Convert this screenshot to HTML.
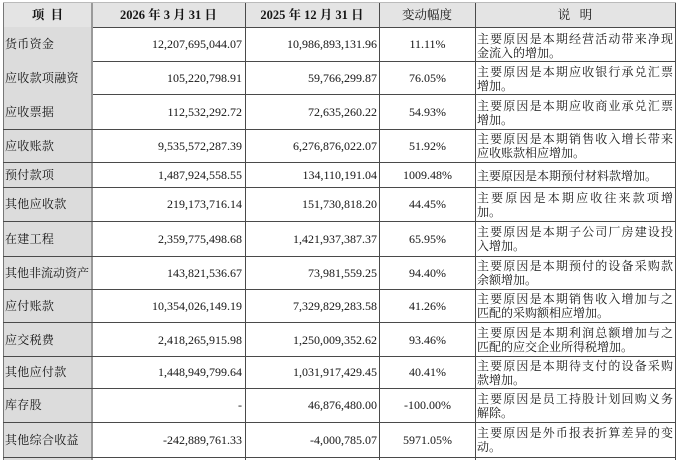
<!DOCTYPE html>
<html>
<head>
<meta charset="utf-8">
<style>
  html,body{margin:0;padding:0;background:#fff;}
  body{width:692px;height:460px;position:relative;overflow:hidden;
       font-family:"Liberation Serif","Noto Serif CJK SC",serif;color:#151515;}
  .abs{position:absolute;}
  .hl{position:absolute;height:1px;background:#4a4a4a;}
  .vl{position:absolute;width:1px;background:#4a4a4a;}
  .c1{position:absolute;left:5px;font-size:12px;letter-spacing:0.3px;line-height:14px;white-space:nowrap;}
  .n2{position:absolute;right:450px;font-size:12px;line-height:14px;white-space:nowrap;}
  .n3{position:absolute;right:315px;font-size:12px;line-height:14px;white-space:nowrap;}
  .p4{position:absolute;left:380px;width:95px;text-align:center;font-size:12px;line-height:14px;white-space:nowrap;}
  .d{position:absolute;left:477px;width:196px;font-size:12px;line-height:14px;white-space:nowrap;}
  .j{text-align:justify;text-align-last:justify;white-space:normal;}
  .h{position:absolute;top:8px;font-size:12.5px;line-height:14px;text-align:center;white-space:nowrap;}
</style>
</head>
<body>
<!-- backgrounds -->
<div class="abs" style="left:3px;top:3px;width:672px;height:24px;background:#e4e4e4;"></div>
<div class="abs" style="left:3px;top:27px;width:89px;height:433px;background:#dcdcdc;"></div>

<!-- vertical lines -->
<div class="vl" style="left:3px;top:3px;height:457px;background:#777;"></div>
<div class="vl" style="left:91px;top:3px;height:457px;width:2px;background:#9a9a9a;"></div>
<div class="vl" style="left:245px;top:3px;height:457px;"></div>
<div class="vl" style="left:379px;top:3px;height:457px;"></div>
<div class="vl" style="left:475px;top:3px;height:457px;"></div>
<div class="vl" style="left:675px;top:3px;height:457px;"></div>

<!-- horizontal lines -->
<div class="hl" style="left:3px;top:2px;width:673px;background:#bbb;"></div>
<div class="hl" style="left:93px;top:27px;width:583px;"></div>
<div class="hl" style="left:93px;top:61px;width:583px;"></div>
<div class="hl" style="left:93px;top:94px;width:583px;"></div>
<div class="hl" style="left:3px;top:129px;width:673px;"></div>
<div class="hl" style="left:3px;top:162px;width:673px;"></div>
<div class="hl" style="left:3px;top:187px;width:673px;"></div>
<div class="hl" style="left:3px;top:221px;width:673px;"></div>
<div class="hl" style="left:3px;top:256px;width:673px;"></div>
<div class="hl" style="left:3px;top:289px;width:673px;"></div>
<div class="hl" style="left:3px;top:322px;width:673px;"></div>
<div class="hl" style="left:3px;top:356px;width:673px;"></div>
<div class="hl" style="left:3px;top:388px;width:673px;"></div>
<div class="hl" style="left:3px;top:422px;width:673px;"></div>
<div class="hl" style="left:3px;top:457px;width:673px;"></div>

<!-- header -->
<div class="h" style="left:3px;width:89px;font-weight:bold;">项&nbsp;&nbsp;目</div>
<div class="h" style="left:92px;width:153px;font-weight:bold;">2026 年 3 月 31 日</div>
<div class="h" style="left:245px;width:134px;font-weight:bold;">2025 年 12 月 31 日</div>
<div class="h" style="left:379px;width:96px;">变动幅度</div>
<div class="h" style="left:475px;width:200px;">说&nbsp;&nbsp;&nbsp;明</div>

<!-- row 1: 27-61 -->
<div class="c1" style="top:37px;">货币资金</div>
<div class="n2" style="top:37px;">12,207,695,044.07</div>
<div class="n3" style="top:37px;">10,986,893,131.96</div>
<div class="p4" style="top:37px;">11.11%</div>
<div class="d j" style="top:32px;">主要原因是本期经营活动带来净现</div>
<div class="d" style="top:46px;">金流入的增加。</div>

<!-- row 2: 61-94 -->
<div class="c1" style="top:71px;">应收款项融资</div>
<div class="n2" style="top:71px;">105,220,798.91</div>
<div class="n3" style="top:71px;">59,766,299.87</div>
<div class="p4" style="top:71px;">76.05%</div>
<div class="d j" style="top:65px;">主要原因是本期应收银行承兑汇票</div>
<div class="d" style="top:79px;">增加。</div>

<!-- row 3: 94-129 -->
<div class="c1" style="top:105px;">应收票据</div>
<div class="n2" style="top:105px;">112,532,292.72</div>
<div class="n3" style="top:105px;">72,635,260.22</div>
<div class="p4" style="top:105px;">54.93%</div>
<div class="d j" style="top:99px;">主要原因是本期应收商业承兑汇票</div>
<div class="d" style="top:113px;">增加。</div>

<!-- row 4: 129-162 -->
<div class="c1" style="top:139px;">应收账款</div>
<div class="n2" style="top:139px;">9,535,572,287.39</div>
<div class="n3" style="top:139px;">6,276,876,022.07</div>
<div class="p4" style="top:139px;">51.92%</div>
<div class="d j" style="top:132px;">主要原因是本期销售收入增长带来</div>
<div class="d" style="top:146px;">应收账款相应增加。</div>

<!-- row 5: 162-187 -->
<div class="c1" style="top:168px;">预付款项</div>
<div class="n2" style="top:168px;">1,487,924,558.55</div>
<div class="n3" style="top:168px;">134,110,191.04</div>
<div class="p4" style="top:168px;">1009.48%</div>
<div class="d" style="top:169px;">主要原因是本期预付材料款增加。</div>

<!-- row 6: 187-221 -->
<div class="c1" style="top:197px;">其他应收款</div>
<div class="n2" style="top:197px;">219,173,716.14</div>
<div class="n3" style="top:197px;">151,730,818.20</div>
<div class="p4" style="top:197px;">44.45%</div>
<div class="d j" style="top:191px;">主要原因是本期应收往来款项增</div>
<div class="d" style="top:205px;">加。</div>

<!-- row 7: 221-256 -->
<div class="c1" style="top:232px;">在建工程</div>
<div class="n2" style="top:232px;">2,359,775,498.68</div>
<div class="n3" style="top:232px;">1,421,937,387.37</div>
<div class="p4" style="top:232px;">65.95%</div>
<div class="d j" style="top:225px;">主要原因是本期子公司厂房建设投</div>
<div class="d" style="top:239px;">入增加。</div>

<!-- row 8: 256-289 -->
<div class="c1" style="top:266px;letter-spacing:0;">其他非流动资产</div>
<div class="n2" style="top:266px;">143,821,536.67</div>
<div class="n3" style="top:266px;">73,981,559.25</div>
<div class="p4" style="top:266px;">94.40%</div>
<div class="d j" style="top:259px;">主要原因是本期预付的设备采购款</div>
<div class="d" style="top:273px;">余额增加。</div>

<!-- row 9: 289-322 -->
<div class="c1" style="top:299px;">应付账款</div>
<div class="n2" style="top:299px;">10,354,026,149.19</div>
<div class="n3" style="top:299px;">7,329,829,283.58</div>
<div class="p4" style="top:299px;">41.26%</div>
<div class="d j" style="top:292px;">主要原因是本期销售收入增加与之</div>
<div class="d" style="top:306px;">匹配的采购额相应增加。</div>

<!-- row 10: 322-356 -->
<div class="c1" style="top:333px;">应交税费</div>
<div class="n2" style="top:333px;">2,418,265,915.98</div>
<div class="n3" style="top:333px;">1,250,009,352.62</div>
<div class="p4" style="top:333px;">93.46%</div>
<div class="d j" style="top:326px;">主要原因是本期利润总额增加与之</div>
<div class="d" style="top:340px;">匹配的应交企业所得税增加。</div>

<!-- row 11: 356-388 -->
<div class="c1" style="top:365px;">其他应付款</div>
<div class="n2" style="top:365px;">1,448,949,799.64</div>
<div class="n3" style="top:365px;">1,031,917,429.45</div>
<div class="p4" style="top:365px;">40.41%</div>
<div class="d j" style="top:359px;">主要原因是本期待支付的设备采购</div>
<div class="d" style="top:373px;">款增加。</div>

<!-- row 12: 388-422 -->
<div class="c1" style="top:398px;">库存股</div>
<div class="n2" style="top:398px;">-</div>
<div class="n3" style="top:398px;">46,876,480.00</div>
<div class="p4" style="top:398px;">-100.00%</div>
<div class="d j" style="top:392px;">主要原因是员工持股计划回购义务</div>
<div class="d" style="top:406px;">解除。</div>

<!-- row 13: 422-457 -->
<div class="c1" style="top:433px;">其他综合收益</div>
<div class="n2" style="top:433px;">-242,889,761.33</div>
<div class="n3" style="top:433px;">-4,000,785.07</div>
<div class="p4" style="top:433px;">5971.05%</div>
<div class="d j" style="top:426px;">主要原因是外币报表折算差异的变</div>
<div class="d" style="top:440px;">动。</div>
</body>
</html>
